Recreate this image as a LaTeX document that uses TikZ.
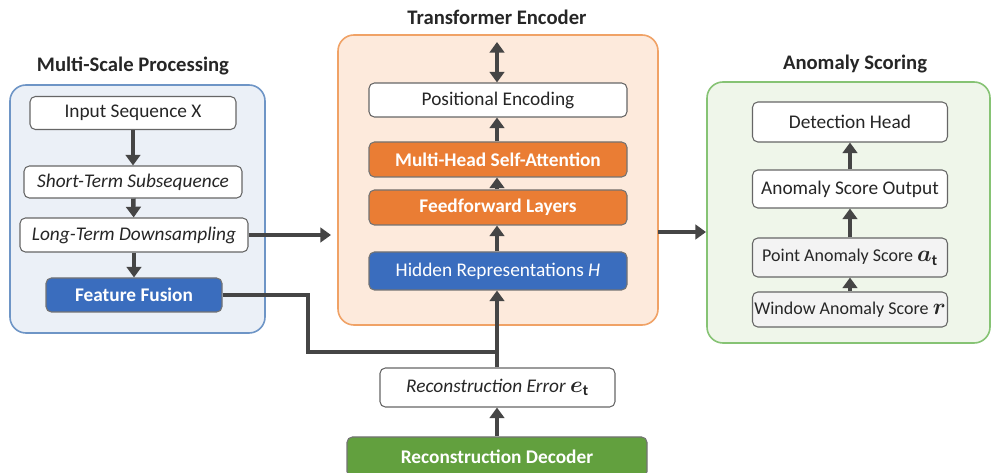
\documentclass[tikz,border=0pt]{standalone}
\usepackage{bm}
\usepackage{fontspec}
\setmainfont{Carlito}
\newcommand{\symvar}[2]{{\fontsize{16.5}{17}\selectfont$\bm{#1}\ifx&#2&\else_{\mathbf{#2}}\fi$}}
\usetikzlibrary{arrows.meta}
\definecolor{arr}{HTML}{454545}
\definecolor{bluepanel}{HTML}{EBF0F7}
\definecolor{blueedge}{HTML}{6E95C6}
\definecolor{orpanel}{HTML}{FDEADC}
\definecolor{oredge}{HTML}{F0A266}
\definecolor{grpanel}{HTML}{EFF6EA}
\definecolor{gredge}{HTML}{86C374}
\definecolor{bluebox}{HTML}{3A6DBE}
\definecolor{orbox}{HTML}{EA7D34}
\definecolor{grbox}{HTML}{62A03E}
\definecolor{graybox}{HTML}{F3F3F3}
\tikzset{
  panel/.style={draw, line width=1.2pt, rounded corners=12pt},
  box/.style={draw=black!60, line width=0.8pt, rounded corners=4pt, fill=white,
    inner sep=0pt, font=\fontsize{14.5}{17}\selectfont, text=black!85},
  dark/.style={box, draw=black!55, text=white, font=\fontsize{14.5}{17}\selectfont\bfseries},
  ptitle/.style={font=\fontsize{15.5}{18}\selectfont\bfseries, text=black!85},
  flow/.style={draw=arr, line width=3.4pt, -{Triangle[length=8pt,width=11pt]}},
  link/.style={draw=arr, line width=3.4pt}
}
\begin{document}
\begin{tikzpicture}[x=0.75pt,y=-0.75pt]
\useasboundingbox (0,0) rectangle (992,473);
% panels
\draw[panel, draw=blueedge, fill=bluepanel] (10,85) rectangle (265,333);
\draw[panel, draw=oredge, fill=orpanel] (338,35) rectangle (658,325);
\draw[panel, draw=gredge, fill=grpanel] (707,82) rectangle (990,343);
\node[ptitle] (t1) at (133,66) {Multi-Scale Processing};
\node[ptitle] (t2) at (497,17) {Transformer Encoder};
\node[ptitle] (t3) at (855,64) {Anomaly Scoring};
% left nodes
\node[box, minimum width=206*0.75pt, minimum height=33*0.75pt] (inp) at (133,113) {Input Sequence X};
\node[box, minimum width=218*0.75pt, minimum height=32*0.75pt] (sts) at (133,182) {\itshape Short-Term Subsequence};
\node[box, minimum width=228*0.75pt, minimum height=34*0.75pt] (ltd) at (134,235) {\itshape Long-Term Downsampling};
\node[dark, fill=bluebox, minimum width=176*0.75pt, minimum height=34*0.75pt] (ff) at (134,295) {Feature Fusion};
% encoder nodes
\coordinate (top) at (497,42);
\node[box, minimum width=258*0.75pt, minimum height=34*0.75pt] (pe) at (498,100) {Positional Encoding};
\node[dark, fill=orbox, minimum width=258*0.75pt, minimum height=35*0.75pt] (mh) at (498,159.5) {Multi-Head Self-Attention};
\node[dark, fill=orbox, minimum width=258*0.75pt, minimum height=35*0.75pt] (fl) at (498,207.5) {Feedforward Layers};
\node[box, draw=black!55, fill=bluebox, text=white, minimum width=258*0.75pt, minimum height=38*0.75pt] (hr) at (498,271) {Hidden Representations \textit{H}};
% anomaly nodes
\node[box, minimum width=195*0.75pt, minimum height=40*0.75pt] (dh) at (850,122) {Detection Head};
\node[box, minimum width=195*0.75pt, minimum height=38*0.75pt] (aso) at (850,189) {Anomaly Score Output};
\node[box, fill=graybox, minimum width=195*0.75pt, minimum height=39*0.75pt, font=\fontsize{13.5}{16}\selectfont] (pas) at (850,257.5) {Point Anomaly Score \symvar{a}{t}};
\node[box, fill=graybox, minimum width=195*0.75pt, minimum height=35*0.75pt, font=\fontsize{13.5}{16}\selectfont] (was) at (850,309.5) {Window Anomaly Score \symvar{r}{}};
% bottom nodes
\node[box, minimum width=235*0.75pt, minimum height=39*0.75pt] (re) at (497.5,387.5) {\itshape Reconstruction Error \symvar{e}{t}};
\node[dark, fill=grbox, minimum width=300*0.75pt, minimum height=40*0.75pt] (rd) at (497,457) {Reconstruction Decoder};
% connectors
\draw[flow] (inp) -- (sts);
\draw[flow] (sts) -- (ltd);
\draw[flow] (ltd) -- (ff);
\coordinate (encin) at (331,235);
\draw[flow] (ltd.east) -- (ltd.east -| encin);
\draw[draw=arr, line width=3.4pt, {Triangle[length=8pt,width=11pt]}-{Triangle[length=8pt,width=11pt]}] (top) -- (pe.north -| top);
\draw[flow] (mh.north -| top) -- (pe.south -| top);
\draw[flow] (fl.north -| top) -- (mh.south -| top);
\draw[flow] (hr.north -| top) -- (fl.south -| top);
\draw[flow] (re.north -| top) -- (hr.south -| top);
\coordinate (bend) at (308,352);
\draw[link, line join=miter] (ff.east) -| (bend) -- (bend -| top);
\coordinate (ascin) at (706,232);
\draw[flow] (658,232) -- (ascin);
\draw[flow] (aso) -- (dh);
\draw[flow] (pas) -- (aso);
\draw[flow] (was) -- (pas);
\draw[flow] (rd.north -| top) -- (re.south -| top);
\end{tikzpicture}
\end{document}
